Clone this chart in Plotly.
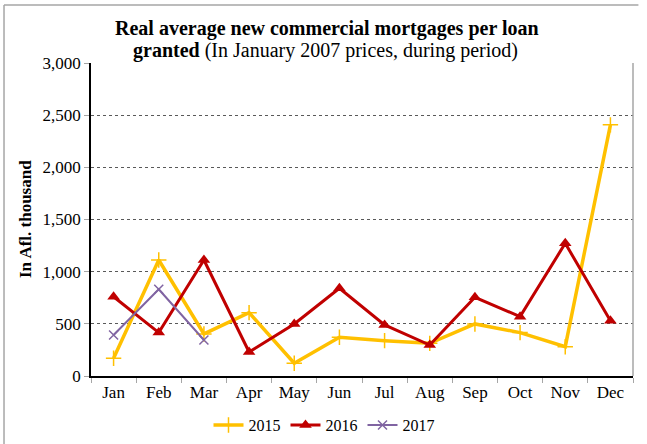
import plotly.graph_objects as go

months = ["Jan", "Feb", "Mar", "Apr", "May", "Jun", "Jul", "Aug", "Sep", "Oct", "Nov", "Dec"]
v2015 = [170, 1112, 403, 607, 122, 371, 339, 313, 499, 416, 281, 2407]
v2016 = [760, 416, 1112, 230, 499, 841, 489, 297, 754, 569, 1272, 530]
v2017 = [393, 831, 345]
y_ticks = [0, 500, 1000, 1500, 2000, 2500, 3000]

FONT = "Liberation Serif, Times New Roman, serif"

fig = go.Figure()
fig.add_trace(go.Scatter(
    x=months, y=v2015, name="2015", mode="lines+markers",
    line=dict(color="#FFC000", width=3.5),
    marker=dict(symbol="cross-thin", size=11, line=dict(color="#FFC000", width=1.5)),
))
fig.add_trace(go.Scatter(
    x=months, y=v2016, name="2016", mode="lines+markers",
    line=dict(color="#C00000", width=3),
    marker=dict(symbol="triangle-up", size=11, color="#C00000"),
))
fig.add_trace(go.Scatter(
    x=months[:len(v2017)], y=v2017, name="2017", mode="lines+markers",
    line=dict(color="#8064A2", width=2),
    marker=dict(symbol="x-thin", size=9, line=dict(color="#8064A2", width=1.5)),
))

fig.update_layout(
    width=647, height=444,
    margin=dict(l=91, r=14, t=63, b=68, autoexpand=False),
    paper_bgcolor="white", plot_bgcolor="white",
    font=dict(family=FONT, size=17, color="black"),
    showlegend=True,
    legend=dict(orientation="h", x=(324 - 91) / 542, xanchor="center", y=-0.157, yanchor="middle",
                font=dict(family=FONT, size=16), itemwidth=30, tracegroupgap=0),
    shapes=[
        dict(type="line", xref="paper", yref="paper", x0=-0.1605, x1=1.01, y0=1.185, y1=1.185,
             line=dict(color="#A6A6A6", width=1.5)),
        dict(type="line", xref="paper", yref="paper", x0=-0.1605, x1=-0.1605, y0=1.185, y1=-0.3,
             line=dict(color="#A6A6A6", width=1.5)),
        dict(type="line", xref="paper", yref="paper", x0=1, x1=1, y0=0, y1=1,
             line=dict(color="#A6A6A6", width=1.5)),
    ],
    annotations=[
        dict(text="<b>Real average new commercial mortgages per loan</b>",
             xref="paper", yref="paper", x=(327 - 91) / 542, y=(376 - 29) / 313,
             xanchor="center", yanchor="middle", showarrow=False,
             font=dict(family=FONT, size=20, color="black")),
        dict(text="<b>granted</b> (In January 2007 prices, during period)",
             xref="paper", yref="paper", x=(325 - 91) / 542, y=(376 - 50) / 313,
             xanchor="center", yanchor="middle", showarrow=False,
             font=dict(family=FONT, size=20, color="black")),
        dict(text="<b>In Afl. thousand</b>", textangle=-90,
             xref="paper", yref="paper", x=(25 - 91) / 542, y=(376 - 219) / 313,
             xanchor="center", yanchor="middle", showarrow=False,
             font=dict(family=FONT, size=17, color="black")),
    ],
)

fig.update_xaxes(
    type="category", categoryorder="array", categoryarray=months,
    tickson="boundaries", ticks="outside", ticklen=5, tickcolor="#A6A6A6",
    showline=True, linecolor="black", linewidth=1.5, mirror=False,
    showgrid=False, tickfont=dict(family=FONT, size=17), range=[-0.5, 11.5],
)
fig.update_yaxes(
    range=[0, 3000], tickvals=y_ticks, tickformat=",",
    ticks="outside", ticklen=5, tickcolor="#A6A6A6",
    showline=True, linecolor="black", linewidth=1.5,
    showgrid=True, gridcolor="#595959", gridwidth=1, griddash="dot",
    zeroline=False, tickfont=dict(family=FONT, size=17),
)

fig.write_html("out.html", config={"displayModeBar": False},
               post_script="document.body.style.margin='0';")
